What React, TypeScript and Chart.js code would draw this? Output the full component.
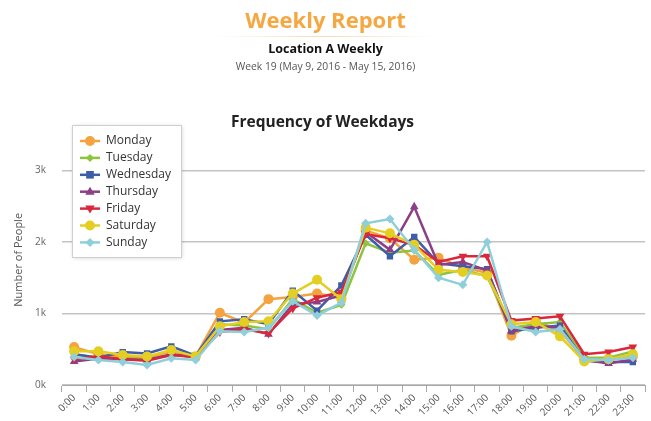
import React, { useEffect, useRef } from 'react';
import { Chart, registerables } from 'chart.js';

Chart.register(...registerables);

const FONT = '"Open Sans", "DejaVu Sans", sans-serif';

const hours = [
  '0:00', '1:00', '2:00', '3:00', '4:00', '5:00', '6:00', '7:00', '8:00', '9:00', '10:00', '11:00',
  '12:00', '13:00', '14:00', '15:00', '16:00', '17:00', '18:00', '19:00', '20:00', '21:00', '22:00', '23:00',
];

const seriesNames = ['Monday', 'Tuesday', 'Wednesday', 'Thursday', 'Friday', 'Saturday', 'Sunday'];

const monday = [530, 430, 400, 380, 470, 400, 1010, 870, 1200, 1230, 1280, 1220, 2160, 2050, 1750, 1780, 1640, 1570, 690, 890, 760, 360, 370, 400];
const tuesday = [430, 380, 370, 360, 420, 400, 850, 830, 780, 1200, 1010, 1120, 1980, 1850, 1880, 1540, 1610, 1520, 800, 850, 880, 380, 380, 470];
const wednesday = [430, 380, 460, 440, 540, 410, 890, 920, 850, 1320, 1040, 1390, 2100, 1800, 2070, 1700, 1660, 1620, 750, 800, 830, 340, 320, 320];
const thursday = [330, 370, 360, 350, 430, 390, 770, 800, 710, 1130, 1160, 1250, 2140, 1890, 2490, 1680, 1720, 1600, 760, 820, 800, 350, 300, 360];
const friday = [360, 400, 360, 340, 420, 390, 740, 780, 720, 1070, 1220, 1300, 2110, 2050, 1960, 1720, 1800, 1800, 900, 930, 960, 430, 460, 530];
const saturday = [470, 470, 420, 400, 490, 400, 820, 880, 890, 1280, 1470, 1200, 2200, 2120, 1960, 1610, 1580, 1530, 850, 880, 680, 330, 360, 430];
const sunday = [390, 350, 320, 280, 375, 350, 750, 740, 800, 1170, 970, 1150, 2260, 2320, 1890, 1500, 1400, 2000, 820, 740, 780, 360, 350, 380];

const seriesValues = [monday, tuesday, wednesday, thursday, friday, saturday, sunday];

const colors = ['#F5A33E', '#8CC43F', '#3E5CA8', '#8C3F86', '#D9283B', '#E4CE22', '#8ECFDA'];
const pointStyles = ['circle', 'rectRot', 'rect', 'triangle', 'triangle', 'circle', 'rectRot'];
const pointRotations = [0, 0, 0, 0, 180, 0, 0];
const pointRadii = [5, 4, 4.5, 5, 5, 5, 4.5];

const yTickValues = [0, 1000, 2000, 3000];

function drawMarker(ctx: CanvasRenderingContext2D, style: string, rot: number, r: number, x: number, y: number) {
  ctx.beginPath();
  if (style === 'circle') {
    ctx.arc(x, y, r, 0, Math.PI * 2);
  } else if (style === 'rect') {
    ctx.rect(x - r * 0.85, y - r * 0.85, r * 1.7, r * 1.7);
  } else if (style === 'rectRot') {
    ctx.moveTo(x, y - r);
    ctx.lineTo(x + r, y);
    ctx.lineTo(x, y + r);
    ctx.lineTo(x - r, y);
    ctx.closePath();
  } else if (style === 'triangle') {
    const s = rot === 180 ? -1 : 1;
    ctx.moveTo(x, y - r * s);
    ctx.lineTo(x + r * 0.95, y + r * 0.6 * s);
    ctx.lineTo(x - r * 0.95, y + r * 0.6 * s);
    ctx.closePath();
  }
  ctx.fill();
}

const legendPlugin = {
  id: 'boxLegend',
  afterDraw(chart: any) {
    const ctx: CanvasRenderingContext2D = chart.ctx;
    const bx = 72;
    const by = 125;
    const bw = 109;
    const bh = 132;
    ctx.save();
    ctx.shadowColor = 'rgba(0,0,0,0.18)';
    ctx.shadowBlur = 4;
    ctx.shadowOffsetX = 1;
    ctx.shadowOffsetY = 1;
    ctx.fillStyle = '#ffffff';
    ctx.fillRect(bx, by, bw, bh);
    ctx.restore();
    ctx.save();
    ctx.strokeStyle = '#cfcfcf';
    ctx.lineWidth = 1;
    ctx.strokeRect(bx + 0.5, by + 0.5, bw, bh);
    chart.data.datasets.forEach((ds: any, i: number) => {
      const y = by + 16 + i * 16.9;
      ctx.strokeStyle = ds.borderColor;
      ctx.lineWidth = 2.5;
      ctx.beginPath();
      ctx.moveTo(80, y);
      ctx.lineTo(100, y);
      ctx.stroke();
      ctx.fillStyle = ds.borderColor;
      drawMarker(ctx, ds.pointStyle, ds.pointRotation, ds.pointRadius, 90, y);
      ctx.fillStyle = '#333333';
      ctx.font = `12px ${FONT}`;
      ctx.textBaseline = 'middle';
      ctx.textAlign = 'left';
      ctx.fillText(ds.label, 106, y);
    });
    ctx.restore();
  },
};

export default function App() {
  const canvasRef = useRef<HTMLCanvasElement | null>(null);

  useEffect(() => {
    if (!canvasRef.current) return;
    const chart = new Chart(canvasRef.current, {
      type: 'line',
      data: {
        labels: hours,
        datasets: seriesNames.map((name, i) => ({
          label: name,
          data: seriesValues[i],
          borderColor: colors[i],
          backgroundColor: colors[i],
          pointBackgroundColor: colors[i],
          pointBorderWidth: 0,
          pointStyle: pointStyles[i] as any,
          pointRotation: pointRotations[i],
          pointRadius: pointRadii[i],
          borderWidth: 2.5,
          tension: 0,
          fill: false,
          order: seriesNames.length - i,
        })),
      },
      options: {
        animation: false,
        responsive: false,
        maintainAspectRatio: false,
        layout: { padding: { top: 113, right: 6, left: 0, bottom: 0 } },
        plugins: {
          legend: { display: false },
          tooltip: { enabled: false },
          title: {
            display: true,
            text: 'Frequency of Weekdays',
            color: '#222222',
            font: { family: FONT, size: 15.5, weight: 'bold' },
            padding: { top: 0, bottom: 3 },
          },
        },
        scales: {
          x: {
            offset: true,
            grid: { offset: true, drawOnChartArea: false, drawTicks: true, tickLength: 7, color: '#a8a8a8' },
            border: { display: true, color: '#a8a8a8', width: 1 },
            ticks: {
              minRotation: 45,
              maxRotation: 45,
              autoSkip: false,
              color: '#555555',
              font: { family: FONT, size: 10 },
              padding: 0,
            },
            afterFit: (s: any) => {
              s.height = 36;
            },
          },
          y: {
            min: 0,
            max: 3500,
            afterBuildTicks: (s: any) => {
              s.ticks = yTickValues.map((v) => ({ value: v }));
            },
            grid: { color: '#c4c4c4', lineWidth: 1.5, drawTicks: false },
            border: { display: false },
            ticks: {
              callback: (v: any) => `${Number(v) / 1000}k`,
              color: '#666666',
              font: { family: FONT, size: 10 },
              padding: 16,
            },
            title: {
              display: true,
              text: 'Number of People',
              color: '#555555',
              font: { family: FONT, size: 11 },
              padding: { top: 12, bottom: 0 },
            },
            afterFit: (s: any) => {
              s.width = 62;
            },
          },
        },
      },
      plugins: [legendPlugin],
    });
    return () => chart.destroy();
  }, []);

  return (
    <div style={{ position: 'absolute', left: 0, top: 0, width: 651, height: 421, background: '#ffffff', overflow: 'hidden' }}>
      <canvas ref={canvasRef} width={651} height={421} style={{ position: 'absolute', left: 0, top: 0, width: 651, height: 421 }} />
      <div style={{ position: 'absolute', left: 0, top: 4, width: 651, textAlign: 'center', fontFamily: FONT, fontWeight: 700, fontSize: 22, lineHeight: '30px', color: '#F5A742' }}>
        Weekly Report
      </div>
      <div style={{ position: 'absolute', left: 215, top: 36, width: 220, height: 1, background: 'linear-gradient(to right, rgba(245,200,140,0), rgba(245,215,170,0.9), rgba(245,200,140,0))' }} />
      <div style={{ position: 'absolute', left: 0, top: 41, width: 651, textAlign: 'center', fontFamily: FONT, fontWeight: 700, fontSize: 12.5, lineHeight: '16px', color: '#111111' }}>
        Location A Weekly
      </div>
      <div style={{ position: 'absolute', left: 0, top: 59, width: 651, textAlign: 'center', fontFamily: FONT, fontSize: 10.3, lineHeight: '14px', color: '#555555' }}>
        Week 19 (May 9, 2016 - May 15, 2016)
      </div>
    </div>
  );
}
